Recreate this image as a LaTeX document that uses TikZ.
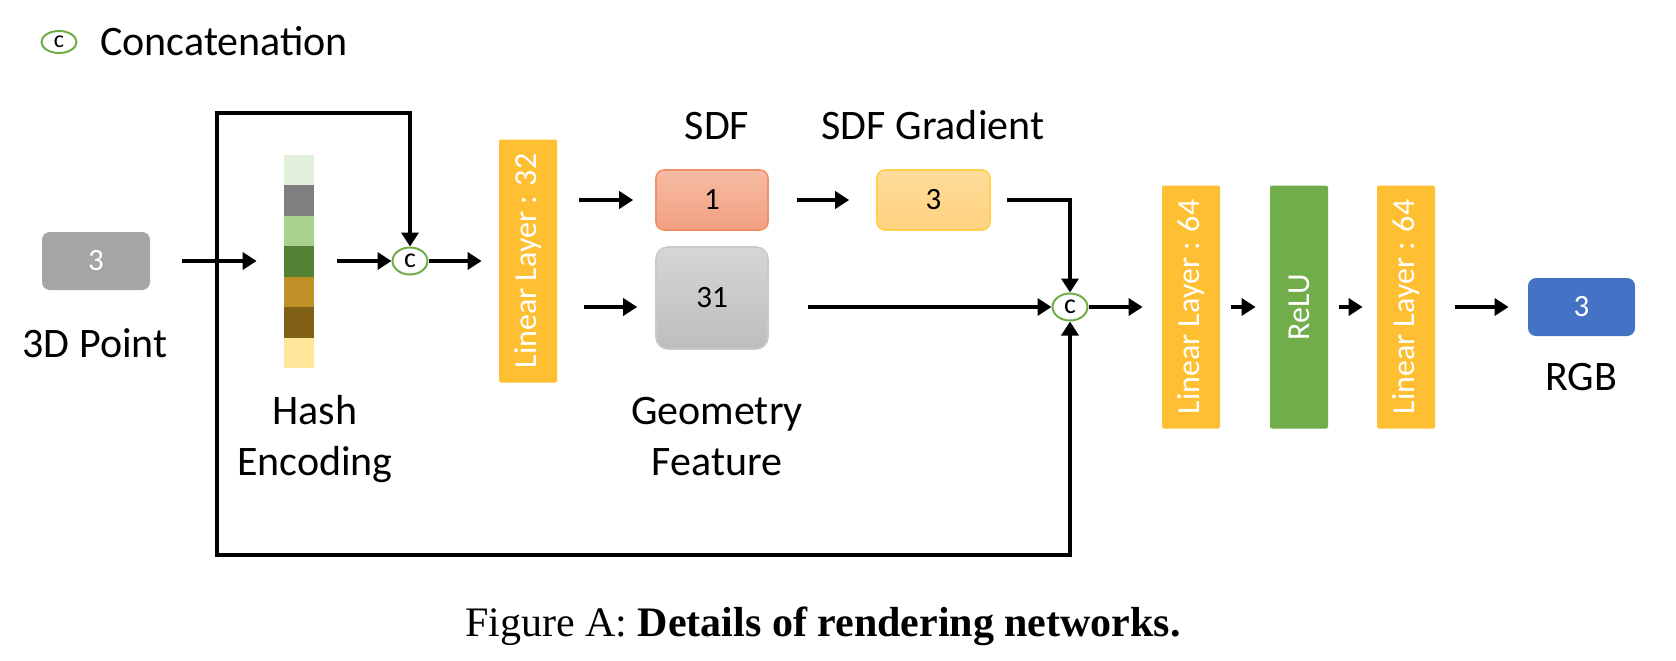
\documentclass[tikz,border=0pt]{standalone}
\usepackage{fontspec}
\setmainfont{Carlito}
\newfontfamily\capfont{Liberation Serif}
\usetikzlibrary{arrows.meta,shapes.geometric}
\definecolor{ptgray}{HTML}{A5A5A5}
\definecolor{layery}{HTML}{FFBF32}
\definecolor{relug}{HTML}{72AD4C}
\definecolor{rgbblue}{HTML}{4472C4}
\definecolor{catgreen}{HTML}{70AD47}
\definecolor{sdftop}{HTML}{F5BCA4}
\definecolor{sdfbot}{HTML}{F2A081}
\definecolor{sdfline}{HTML}{EF9366}
\definecolor{gradtop}{HTML}{FFDC9C}
\definecolor{gradbot}{HTML}{FFD27E}
\definecolor{gradline}{HTML}{FFCF4D}
\definecolor{geotop}{HTML}{D6D6D6}
\definecolor{geobot}{HTML}{BDBDBD}
\definecolor{geoline}{HTML}{C9C9C9}
\definecolor{hA}{HTML}{E2EFDA}
\definecolor{hB}{HTML}{7F7F7F}
\definecolor{hC}{HTML}{A9D18E}
\definecolor{hD}{HTML}{548235}
\definecolor{hE}{HTML}{BF9026}
\definecolor{hF}{HTML}{7F6014}
\definecolor{hG}{HTML}{FFE699}
\begin{document}
\begin{tikzpicture}[x=0.5pt,y=-0.5pt,
  arr/.style={line width=1.8pt, line join=miter, -{Triangle[length=7pt,width=8.5pt]}},
  lbl/.style={font=\fontsize{21pt}{25pt}\selectfont, inner sep=0pt, anchor=base},
  num/.style={font=\fontsize{15.5pt}{18pt}\selectfont, inner sep=0pt},
  rbox/.style={num, rounded corners=4pt},
  layer/.style={fill=layery, rounded corners=1pt, minimum width=29pt, minimum height=121.5pt, inner sep=0pt},
  vtext/.style={rotate=90, text=white, inner sep=0pt, font=\fontsize{16pt}{19pt}\selectfont},
  cat/.style={ellipse, draw=catgreen, line width=1pt, fill=white, minimum width=17.5pt, minimum height=13.5pt, inner sep=0pt, font=\fontsize{14pt}{16pt}\selectfont}]
\useasboundingbox (0,0) rectangle (1676,660);

% legend
\node[cat, minimum width=17.5pt, minimum height=11pt, font=\fontsize{12pt}{14pt}\selectfont] (legc) at (59,42) {c};
\node[lbl, anchor=base west] (legt) at (100,55) {Concatenation};

% input point
\node[rbox, fill=ptgray, text=white, minimum width=54pt, minimum height=29pt] (pt) at (96,261) {3};
\node[lbl] (ptl) at (95,357) {3D Point};

% hash encoding bar
\node[inner sep=0pt, minimum width=15pt, minimum height=106.5pt] (hash) at (299,261.5) {};
\foreach \c [count=\i] in {hA,hB,hC,hD,hE,hF,hG}
  \fill[\c] (284,{155+30.43*(\i-1)}) rectangle ++(30,30.43);
\node[lbl] (hashl1) at (315,424) {Hash};
\node[lbl] (hashl2) at (315,475) {Encoding};

% concat 1
\node[cat] (c1) at (410,261) {c};

% linear 32
\node[layer] (lin32) at (528,261) {};
\node[vtext] (lin32t) at (lin32) {Linear Layer : 32};

% SDF, gradient, geometry
\node[rbox, top color=sdftop, bottom color=sdfbot, draw=sdfline, line width=0.8pt, minimum width=56pt, minimum height=30pt] (sdf) at (712,200) {1};
\node[lbl] (sdfl) at (717,139) {SDF};
\node[rbox, top color=gradtop, bottom color=gradbot, draw=gradline, line width=0.8pt, minimum width=56.5pt, minimum height=30pt] (grad) at (933.5,200) {3};
\node[lbl] (gradl) at (933,139) {SDF Gradient};
\node[rbox, rounded corners=6pt, top color=geotop, bottom color=geobot, draw=geoline, line width=0.8pt, minimum width=56pt, minimum height=51pt] (geo) at (712,298) {31};
\node[lbl] (geol1) at (717,424) {Geometry};
\node[lbl] (geol2) at (717,475) {Feature};

% concat 2
\node[cat] (c2) at (1070,307) {c};

% color head
\node[layer] (lin64a) at (1191,307) {};
\node[vtext] (lin64at) at (lin64a) {Linear Layer : 64};
\node[layer, fill=relug] (relu) at (1299,307) {};
\node[vtext] (relut) at (relu) {ReLU};
\node[layer] (lin64b) at (1406,307) {};
\node[vtext] (lin64bt) at (lin64b) {Linear Layer : 64};
\node[rbox, fill=rgbblue, text=white, minimum width=53.5pt, minimum height=29pt] (rgb) at (1581.5,307) {3};
\node[lbl] (rgbl) at (1581,390) {RGB};

% skip loop
\coordinate (split) at (217,261);
\coordinate (tl) at (217,113);
\coordinate (bl) at (217,555);

% connectors
\draw[arr, shorten <=16pt, shorten >=13.5pt] (pt.east) -- (hash.west |- pt.east);
\draw[arr] (split) -- (tl) -| (c1.north);
\draw[arr] (split) -- (bl) -| (c2.south);
\draw[arr, shorten <=11.5pt] (hash.east |- c1) -- (c1.west);
\draw[arr, shorten >=8.5pt] (c1.east) -- (lin32.west |- c1);
\draw[arr, shorten <=11pt, shorten >=11pt] (lin32.east |- sdf) -- (sdf.west);
\draw[arr, shorten <=13.5pt, shorten >=9pt] (lin32.east |- c2) -- (geo.west |- c2);
\draw[arr, shorten <=14pt, shorten >=13.5pt] (sdf.east) -- (grad.west);
\draw[arr, shorten <=8pt] (grad.east) -| (c2.north);
\draw[arr, shorten <=19.5pt] (geo.east |- c2) -- (c2.west);
\draw[arr, shorten >=9.5pt] (c2.east) -- (lin64a.west);
\draw[arr, shorten <=5.5pt, shorten >=7pt] (lin64a.east) -- (relu.west);
\draw[arr, shorten <=5.5pt, shorten >=7pt] (relu.east) -- (lin64b.west);
\draw[arr, shorten <=10pt, shorten >=9.5pt] (lin64b.east) -- (rgb.west);

% caption
\node[inner sep=0pt, anchor=base, font=\capfont\fontsize{21pt}{25pt}\selectfont] (cap) at (823,636) {Figure A: \textbf{Details of rendering networks.}};
\end{tikzpicture}
\end{document}
